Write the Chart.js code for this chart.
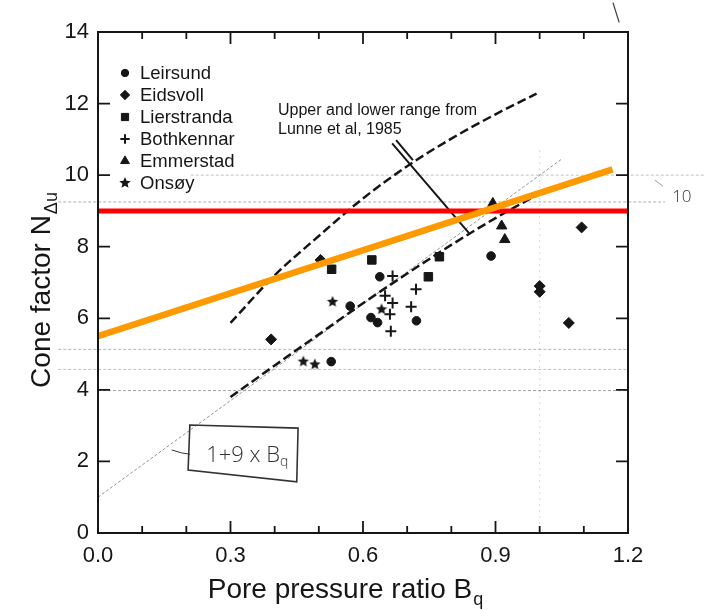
<!DOCTYPE html>
<html><head><meta charset="utf-8">
<script src="https://cdn.jsdelivr.net/npm/chart.js@4/dist/chart.umd.min.js"></script>
<style>html,body{margin:0;padding:0;background:#fff}canvas{display:block}</style>
</head><body>
<canvas id="c" width="707" height="610"></canvas>
<script>
// ---- axis ranges & ticks ----
const xRange = [0, 1.2];
const yRange = [0, 14];
const xTickStep = 0.3;
const yTickStep = 2;

// ---- series ----
const seriesNames = ['Leirsund', 'Eidsvoll', 'Lierstranda', 'Bothkennar', 'Emmerstad', 'Onsøy'];
const leirsundX = [0.528, 0.571, 0.618, 0.633, 0.638, 0.721, 0.890];
const leirsundY = [4.79, 6.34, 6.02, 5.88, 7.16, 5.93, 7.74];
const eidsvollX = [0.392, 0.504, 1.000, 1.000, 1.066, 1.095];
const eidsvollY = [5.41, 7.63, 6.90, 6.74, 5.87, 8.54];
const lierstrandaX = [0.529, 0.620, 0.748, 0.773];
const lierstrandaY = [7.37, 7.63, 7.16, 7.72];
const bothkennarX = [0.650, 0.661, 0.663, 0.667, 0.667, 0.709, 0.720];
const bothkennarY = [6.63, 6.11, 5.64, 6.43, 7.18, 6.32, 6.81];
const emmerstadX = [0.894, 0.914, 0.921];
const emmerstadY = [9.21, 8.58, 8.20];
const onsoyX = [0.465, 0.491, 0.531, 0.642];
const onsoyY = [4.79, 4.71, 6.46, 6.25];

// ---- reference lines ----
const upperRangeX = [0.30, 0.40, 0.50, 0.60, 0.70, 0.80, 0.90, 0.993];
const upperRangeY = [5.87, 7.20, 8.30, 9.35, 10.25, 11.02, 11.70, 12.28];
const lowerRangeX = [0.30, 0.40, 0.50, 0.60, 0.70, 0.80, 0.90, 0.993];
const lowerRangeY = [3.80, 4.68, 5.55, 6.42, 7.25, 8.05, 8.80, 9.44];
const redLineX = [0, 1.2];
const redLineY = [9, 9];
const orangeLineX = [0, 1.165];
const orangeLineY = [5.5, 10.16];
const pencilLineX = [0, 1.05];
const pencilLineY = [1.0, 10.45];
const leaderX = [0.666, 0.840];
const leaderY = [10.89, 8.38];
const leader2X = [0.675, 0.713];
const leader2Y = [10.98, 10.42];

const annotationLines = ['Upper and lower range from', 'Lunne et al, 1985'];
const handNote = ['1+9 x B', 'q'];

const FONT = '"Liberation Sans", Arial, Helvetica, sans-serif';
const INK = '#161616';

function pts(xs, ys) { return xs.map((x, i) => ({ x: x, y: ys[i] })); }

function starCanvas(r) {
  const s = Math.ceil(r * 2 + 2);
  const c = document.createElement('canvas');
  c.width = s; c.height = s;
  const g = c.getContext('2d');
  g.fillStyle = INK;
  g.beginPath();
  for (let i = 0; i < 10; i++) {
    const a = -Math.PI / 2 + i * Math.PI / 5;
    const rr = i % 2 ? r * 0.45 : r;
    const px = s / 2 + Math.cos(a) * rr, py = s / 2 + Math.sin(a) * rr;
    if (i === 0) g.moveTo(px, py); else g.lineTo(px, py);
  }
  g.closePath(); g.fill();
  return c;
}
const STAR = starCanvas(6);

const markerStyles = [
  { pointStyle: 'circle', radius: 4.3 },
  { pointStyle: 'rectRot', radius: 5.5 },
  { pointStyle: 'rect', radius: 6 },
  { pointStyle: 'cross', radius: 5.5 },
  { pointStyle: 'triangle', radius: 6 },
  { pointStyle: STAR, radius: 6 }
];
const seriesX = [leirsundX, eidsvollX, lierstrandaX, bothkennarX, emmerstadX, onsoyX];
const seriesY = [leirsundY, eidsvollY, lierstrandaY, bothkennarY, emmerstadY, onsoyY];

const datasets = [];
datasets.push({ label: 'orange', data: pts(orangeLineX, orangeLineY), showLine: true, borderColor: '#ff9900', borderWidth: 6.5, pointRadius: 0, order: 0, borderCapStyle: 'butt' });
datasets.push({ label: 'red', data: pts(redLineX, redLineY), showLine: true, borderColor: '#ff0000', borderWidth: 5, pointRadius: 0, order: 1 });
seriesNames.forEach((n, i) => {
  datasets.push({
    label: n, data: pts(seriesX[i], seriesY[i]), showLine: false,
    pointStyle: markerStyles[i].pointStyle, pointRadius: markerStyles[i].radius,
    backgroundColor: INK, borderColor: INK, borderWidth: i === 3 ? 2 : 1, order: 2
  });
});
datasets.push({ label: 'upper', data: pts(upperRangeX, upperRangeY), showLine: true, borderColor: INK, borderWidth: 2.5, borderDash: [9, 4], pointRadius: 0, cubicInterpolationMode: 'monotone', order: 3 });
datasets.push({ label: 'lower', data: pts(lowerRangeX, lowerRangeY), showLine: true, borderColor: INK, borderWidth: 2.5, borderDash: [9, 4], pointRadius: 0, cubicInterpolationMode: 'monotone', order: 3 });
datasets.push({ label: 'leader', data: pts(leaderX, leaderY), showLine: true, borderColor: INK, borderWidth: 2, pointRadius: 0, order: 3 });
datasets.push({ label: 'leader2', data: pts(leader2X, leader2Y), showLine: true, borderColor: INK, borderWidth: 2, pointRadius: 0, order: 3 });
datasets.push({ label: 'pencil', data: pts(pencilLineX, pencilLineY), showLine: true, borderColor: 'rgba(120,120,120,0.8)', borderWidth: 1, borderDash: [3, 2], pointRadius: 0, order: 4 });

const decor = {
  id: 'decor',
  beforeDatasetsDraw(chart) {
    const ctx = chart.ctx, xs = chart.scales.x, ys = chart.scales.y;
    const X = v => xs.getPixelForValue(v), Y = v => ys.getPixelForValue(v);
    ctx.save();
    ctx.lineWidth = 1;
    const hl = [[-0.09, 1.284, 9.25, 'rgba(110,110,110,0.55)'], [0.21, 1.375, 10.0, 'rgba(120,120,120,0.45)'],
                [-0.09, 1.2, 5.13, 'rgba(110,110,110,0.5)'], [-0.09, 1.2, 4.57, 'rgba(120,120,120,0.45)'],
                [0, 1.2, 3.98, 'rgba(90,90,90,0.55)']];
    hl.forEach(h => {
      ctx.strokeStyle = h[3];
      ctx.setLineDash([3, 2]);
      ctx.beginPath(); ctx.moveTo(X(h[0]), Y(h[2])); ctx.lineTo(X(h[1]), Y(h[2])); ctx.stroke();
    });
    ctx.strokeStyle = 'rgba(140,140,140,0.35)';
    ctx.setLineDash([2, 4]);
    ctx.beginPath(); ctx.moveTo(X(1.0), Y(10.7)); ctx.lineTo(X(1.0), Y(0)); ctx.stroke();
    ctx.restore();
  },
  afterDraw(chart) {
    const ctx = chart.ctx, xs = chart.scales.x, ys = chart.scales.y, a = chart.chartArea;
    const X = v => xs.getPixelForValue(v), Y = v => ys.getPixelForValue(v);
    ctx.save();
    ctx.strokeStyle = INK; ctx.lineWidth = 2; ctx.setLineDash([]);
    ctx.strokeRect(a.left, a.top, a.right - a.left, a.bottom - a.top);
    ctx.lineWidth = 1.8;
    for (let i = 1; i < 12; i++) {
      const px = X(i / 10), len = (i % 3 === 0) ? 12 : 7;
      ctx.beginPath();
      ctx.moveTo(px, a.bottom); ctx.lineTo(px, a.bottom - len);
      ctx.moveTo(px, a.top); ctx.lineTo(px, a.top + len);
      ctx.stroke();
    }
    for (let v = yRange[0] + yTickStep; v < yRange[1]; v += yTickStep) {
      const py = Y(v);
      ctx.beginPath();
      ctx.moveTo(a.left, py); ctx.lineTo(a.left + 12, py);
      ctx.moveTo(a.right, py); ctx.lineTo(a.right - 12, py);
      ctx.stroke();
    }
    // legend
    ctx.font = '18.5px ' + FONT; ctx.fillStyle = INK; ctx.textBaseline = 'middle'; ctx.textAlign = 'left';
    seriesNames.forEach((n, i) => {
      const cy = a.top + 41 + i * 22, cx = a.left + 27;
      ctx.fillStyle = INK; ctx.strokeStyle = INK; ctx.lineWidth = i === 3 ? 2 : 1;
      const r = markerStyles[i].radius * 0.85;
      if (Chart.helpers && Chart.helpers.drawPoint) {
        Chart.helpers.drawPoint(ctx, { pointStyle: markerStyles[i].pointStyle, radius: r, rotation: 0, borderWidth: ctx.lineWidth }, cx, cy);
      }
      ctx.fillStyle = INK;
      ctx.fillText(n, a.left + 42, cy + 1);
    });
    // annotation text
    ctx.font = '16px ' + FONT; ctx.textBaseline = 'alphabetic';
    ctx.fillText(annotationLines[0], X(0.4075), Y(11.68));
    ctx.fillText(annotationLines[1], X(0.4075), Y(11.16));
    // handwritten note box
    ctx.strokeStyle = '#333'; ctx.lineWidth = 1.6;
    ctx.beginPath();
    ctx.moveTo(X(0.208), Y(3.02)); ctx.lineTo(X(0.453), Y(2.93)); ctx.lineTo(X(0.450), Y(1.43));
    ctx.lineTo(X(0.204), Y(1.76)); ctx.closePath(); ctx.stroke();
    ctx.lineWidth = 1;
    ctx.beginPath(); ctx.moveTo(X(0.167), Y(2.32)); ctx.quadraticCurveTo(X(0.19), Y(2.22), X(0.208), Y(2.20)); ctx.stroke();
    ctx.fillStyle = '#333'; ctx.font = '300 22px "Open Sans", "DejaVu Sans", sans-serif'; ctx.textAlign = 'left';
    const hx = X(0.245), hy = Y(1.98);
    ctx.fillText(handNote[0], hx, hy);
    const hw = ctx.measureText(handNote[0]).width;
    ctx.font = '300 14px "Open Sans", "DejaVu Sans", sans-serif';
    ctx.fillText(handNote[1], hx + hw, hy + 4);
    ctx.font = '300 17px "Open Sans", "DejaVu Sans", sans-serif';
    ctx.fillText('10', X(1.30), Y(9.25));
    ctx.strokeStyle = 'rgba(90,90,90,0.6)'; ctx.lineWidth = 1;
    ctx.beginPath(); ctx.moveTo(X(1.261), Y(9.86)); ctx.lineTo(X(1.279), Y(9.69)); ctx.stroke();
    ctx.strokeStyle = '#444'; ctx.lineWidth = 1.3;
    ctx.beginPath(); ctx.moveTo(X(1.166), Y(14.82)); ctx.lineTo(X(1.18), Y(14.27)); ctx.stroke();
    // axis titles
    ctx.fillStyle = INK; ctx.textAlign = 'left'; ctx.textBaseline = 'alphabetic';
    ctx.font = '28px ' + FONT;
    const xt = 'Pore pressure ratio B';
    const xw = ctx.measureText(xt).width;
    ctx.font = '18px ' + FONT;
    const qw = ctx.measureText('q').width;
    const xStart = (a.left + a.right) / 2 - (xw + qw) / 2 - 18;
    ctx.font = '28px ' + FONT;
    ctx.fillText(xt, xStart, 598);
    ctx.font = '18px ' + FONT;
    ctx.fillText('q', xStart + xw + 1, 605);
    ctx.save();
    ctx.translate(50, 0); ctx.rotate(-Math.PI / 2);
    ctx.font = '28px ' + FONT;
    const yt = 'Cone factor N';
    const yw = ctx.measureText(yt).width;
    ctx.font = '18px ' + FONT;
    const dw = ctx.measureText('Δu').width;
    const yStart = -((a.top + a.bottom) / 2 + 8) - (yw + dw) / 2;
    ctx.font = '28px ' + FONT;
    ctx.fillText(yt, yStart, 0);
    ctx.font = '18px ' + FONT;
    ctx.fillText('Δu', yStart + yw + 1, 7);
    ctx.restore();
    ctx.restore();
  }
};

new Chart(document.getElementById('c'), {
  type: 'scatter',
  data: { datasets: datasets },
  options: {
    responsive: false, animation: false,
    layout: { padding: { left: 0, right: 79, top: 32, bottom: 0 } },
    plugins: { legend: { display: false }, tooltip: { enabled: false } },
    scales: {
      x: {
        type: 'linear', min: xRange[0], max: xRange[1],
        afterFit: s => { s.height = 77; },
        ticks: { stepSize: xTickStep, callback: v => Number(v).toFixed(1), font: { size: 22, family: FONT }, color: INK, padding: 10, maxRotation: 0, autoSkip: false },
        grid: { display: false, drawTicks: false }, border: { display: false }
      },
      y: {
        type: 'linear', min: yRange[0], max: yRange[1],
        afterFit: s => { s.width = 98; },
        ticks: { stepSize: yTickStep, font: { size: 22, family: FONT }, color: INK, padding: 9 },
        grid: { display: false, drawTicks: false }, border: { display: false }
      }
    }
  },
  plugins: [decor]
});
</script>
</body></html>
